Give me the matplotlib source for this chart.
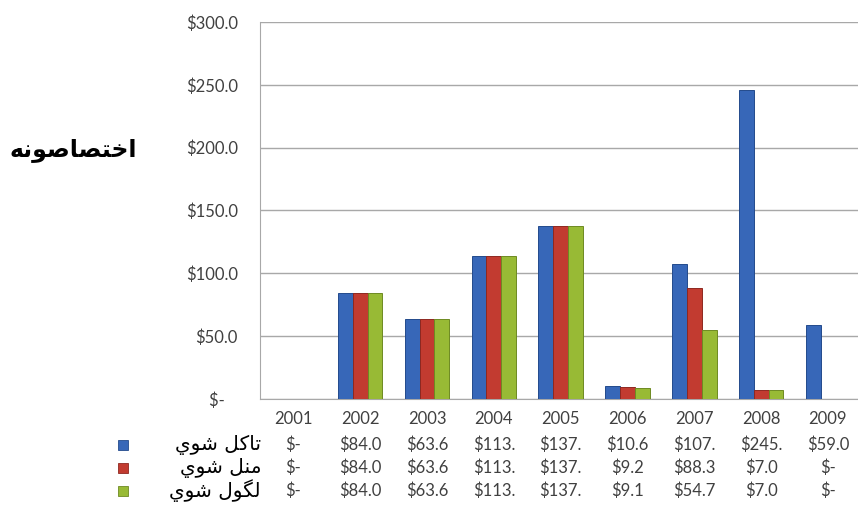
import matplotlib
matplotlib.use('Agg')
import matplotlib.pyplot as plt
from matplotlib.transforms import blended_transform_factory
import numpy as np

years = ['2001', '2002', '2003', '2004', '2005', '2006', '2007', '2008', '2009']
planned = [0, 84.0, 63.6, 113.5, 137.5, 10.6, 107.5, 245.5, 59.0]
approved = [0, 84.0, 63.6, 113.5, 137.5, 9.2, 88.3, 7.0, 0]
spent = [0, 84.0, 63.6, 113.5, 137.5, 9.1, 54.7, 7.0, 0]
series_names = ['تاکل شوي', 'منل شوي', 'لگول شوي']
y_title = 'اختصاصونه'
y_ticks = [0, 50, 100, 150, 200, 250, 300]

colors = ['#3767B8', '#C23B30', '#98BA35']
edges = ['#234A8C', '#8E2820', '#6E8A22']

# matplotlib 3.10 has no Arabic shaping: pick contextual forms by hand
FORMS = {
    'ا': '\uFE8D\uFE8E', 'و': '\uFEED\uFEEE',
    'خ': '\uFEA5\uFEA6\uFEA7\uFEA8', 'ت': '\uFE95\uFE96\uFE97\uFE98',
    'ص': '\uFEB9\uFEBA\uFEBB\uFEBC', 'ن': '\uFEE5\uFEE6\uFEE7\uFEE8',
    'ه': '\uFEE9\uFEEA\uFEEB\uFEEC', 'ک': '\uFB8E\uFB8F\uFB90\uFB91',
    'ل': '\uFEDD\uFEDE\uFEDF\uFEE0', 'ش': '\uFEB5\uFEB6\uFEB7\uFEB8',
    'ي': '\uFEF1\uFEF2\uFEF3\uFEF4', 'م': '\uFEE1\uFEE2\uFEE3\uFEE4',
    'گ': '\uFB92\uFB93\uFB94\uFB95',
}


def shape(text):
    out = []
    for i, ch in enumerate(text):
        f = FORMS.get(ch)
        if f is None:
            out.append(ch)
            continue
        prev = text[i - 1] if i > 0 else ''
        nxt = text[i + 1] if i + 1 < len(text) else ''
        jp = prev in FORMS and len(FORMS[prev]) == 4
        jn = nxt in FORMS and len(f) == 4
        if jp and jn:
            out.append(f[3])
        elif jp:
            out.append(f[1])
        elif jn:
            out.append(f[2])
        else:
            out.append(f[0])
    return ''.join(out)[::-1]


def money(v):
    return '$-' if v == 0 else ('$%.1f' % v)[:5]


num_font = ['Lato', 'DejaVu Sans']
ar_font = ['DejaVu Sans']
fs = 12
grey = '#404040'
H = 531.0


def fy(py):
    return 1 - py / H


fig = plt.figure(figsize=(8.58, 5.31), dpi=100)
ax = fig.add_axes([260 / 858, fy(399), 1 - 260 / 858, 377 / H])

x = np.arange(len(years))
w = 0.222
for k, vals in enumerate([planned, approved, spent]):
    ax.bar(x + (k - 1) * w, vals, width=w, color=colors[k], edgecolor=edges[k],
           linewidth=0.7, zorder=3)

ax.set_xlim(-0.5, 8.45)
ax.set_ylim(0, 300)
ax.set_yticks(y_ticks)
ax.set_yticklabels(['$-   ' if t == 0 else '$%.1f' % t for t in y_ticks],
                   family=num_font, fontsize=fs, color=grey)
ax.tick_params(axis='y', length=0, pad=16)
ax.set_xticks([])
ax.grid(axis='y', color='#A8A8A8', linewidth=1, zorder=0)
for s in ['top', 'right']:
    ax.spines[s].set_visible(False)
ax.spines['left'].set_color('#A8A8A8')
ax.spines['bottom'].set_color('#A8A8A8')

tr = blended_transform_factory(ax.transData, fig.transFigure)
for i, yr in enumerate(years):
    ax.text(i, fy(419), yr, transform=tr, ha='center', va='center',
            family=num_font, fontsize=fs, color=grey, clip_on=False)

row_y = [445, 468, 491]
for k, vals in enumerate([planned, approved, spent]):
    for i, v in enumerate(vals):
        ax.text(i, fy(row_y[k]), money(v), transform=tr, ha='center', va='center',
                family=num_font, fontsize=fs, color=grey, clip_on=False)
    fig.text(261 / 858, fy(row_y[k]), shape(series_names[k]), ha='right', va='center',
             family=ar_font, fontsize=14.5, color='black')
    fig.patches.append(plt.Rectangle((118 / 858, fy(row_y[k] + 5)), 10 / 858, 10 / H,
                                     transform=fig.transFigure, facecolor=colors[k],
                                     edgecolor=edges[k], linewidth=0.6))

fig.text(137 / 858, fy(150), shape(y_title), ha='right', va='center',
         family=ar_font, fontsize=17, fontweight='bold', color='black')

fig.savefig('out.png', dpi=100)
